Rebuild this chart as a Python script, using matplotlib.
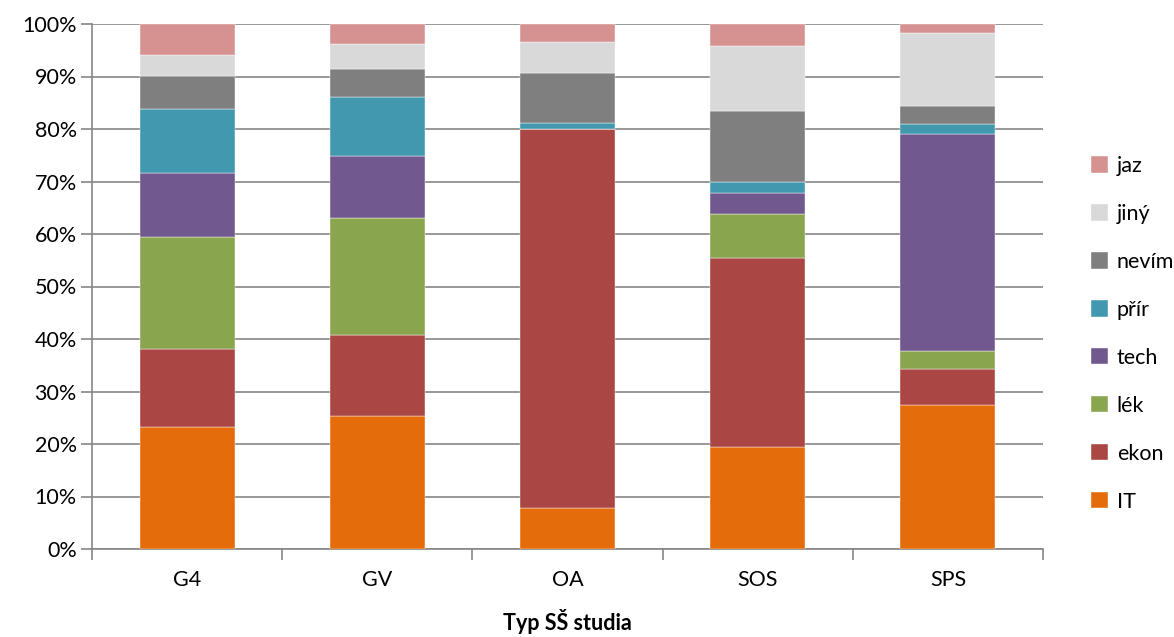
import matplotlib.pyplot as plt
import numpy as np
from matplotlib.ticker import PercentFormatter

plt.rcParams['font.family'] = ['Lato', 'DejaVu Sans']

schools = ['G4', 'GV', 'OA', 'SOS', 'SPS']

# podíly oborů v % pro každý typ SŠ
it = [23.3, 25.3, 7.9, 19.4, 27.4]
ekon = [14.8, 15.4, 72.1, 36.1, 6.8]
lek = [21.4, 22.4, 0.0, 8.3, 3.6]
tech = [12.2, 11.7, 0.0, 4.1, 41.3]
prir = [12.1, 11.3, 1.2, 2.0, 1.9]
nevim = [6.3, 5.3, 9.4, 13.5, 3.3]
jiny = [4.0, 4.8, 5.9, 12.4, 13.9]
jaz = [5.9, 3.8, 3.5, 4.2, 1.8]

series = [
    ('IT', it, '#E46C0A'),
    ('ekon', ekon, '#AA4643'),
    ('lék', lek, '#89A54E'),
    ('tech', tech, '#71588F'),
    ('přír', prir, '#4198AF'),
    ('nevím', nevim, '#7F7F7F'),
    ('jiný', jiny, '#D9D9D9'),
    ('jaz', jaz, '#D69291'),
]

fig = plt.figure(figsize=(11.74, 6.37), dpi=100)
ax = fig.add_axes([92 / 1174, 1 - 549 / 637, 951 / 1174, 525 / 637])

x = np.arange(len(schools))
bottom = np.zeros(len(schools))
handles = []
for name, vals, col in series:
    vals = np.array(vals)
    b = ax.bar(x, vals, 0.5, bottom=bottom, color=col, label=name,
               edgecolor='white', linewidth=0.3, zorder=3)
    handles.append(b)
    bottom += vals

ax.set_xlim(-0.5, len(schools) - 0.5)
ax.set_ylim(0, 100)
ax.set_yticks(np.arange(0, 101, 10))
ax.yaxis.set_major_formatter(PercentFormatter(decimals=0))
ax.grid(axis='y', color='#868686', linewidth=1.2, zorder=0)

ax.set_xticks(x)
ax.set_xticklabels(schools)
ax.set_xticks(np.arange(-0.5, len(schools)), minor=True)
ax.tick_params(axis='x', which='major', length=0, pad=15, labelsize=15.5)
ax.tick_params(axis='x', which='minor', length=8, color='#868686', width=1.2)
ax.tick_params(axis='y', length=8, color='#868686', width=1.2, labelsize=15.5, pad=3)

for s in ['top', 'right']:
    ax.spines[s].set_visible(False)
for s in ['left', 'bottom']:
    ax.spines[s].set_color('#868686')
    ax.spines[s].set_linewidth(1.2)

ax.set_xlabel('Typ SŠ studia', fontsize=15.5, fontweight='bold', labelpad=14)

leg = ax.legend(handles[::-1], [s[0] for s in series][::-1],
                loc='center left', bbox_to_anchor=(1.03, 0.41),
                frameon=False, fontsize=15.5, handlelength=0.8,
                handleheight=0.8, handletextpad=0.4, labelspacing=1.3)

fig.savefig('out.png', dpi=100)
